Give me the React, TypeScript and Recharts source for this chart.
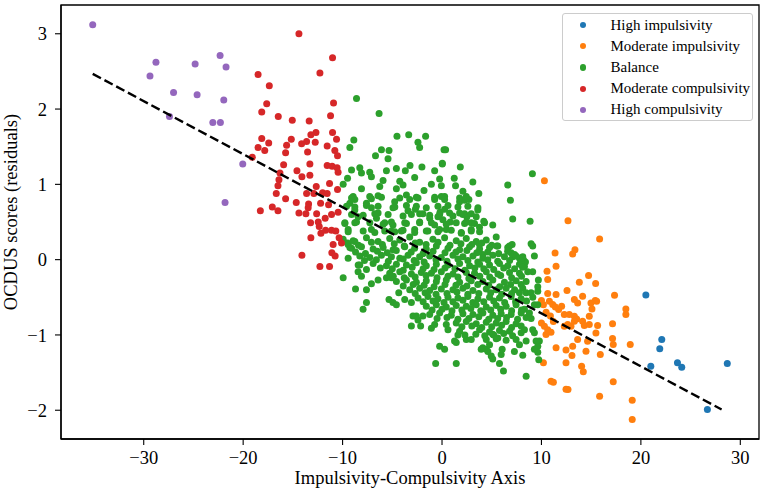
import React from 'react';
import { ScatterChart, Scatter, XAxis, YAxis, Legend, ReferenceArea } from 'recharts';

const FONT = '"Liberation Serif", "Times New Roman", serif';

const xTicks = [-30, -20, -10, 0, 10, 20, 30];
const yTicks = [-2, -1, 0, 1, 2, 3];
const xDomain = [-38.32, 31.88];
const yDomain = [-2.382, 3.382];

const highImpulsivity: [number, number][] = [
  [20.5, -0.47], [22.1, -1.06], [21.9, -1.185], [21.0, -1.415], [23.68, -1.37],
  [24.11, -1.428], [28.69, -1.38], [26.69, -1.99],
];

const moderateImpulsivity: [number, number][] = [
  [10.3, 1.048], [12.67, 0.517], [15.85, 0.274], [13.37, 0.133], [13.14, 0.075], [11.37, 0.088],
  [11.47, -0.088], [10.56, -0.155], [10.63, -0.265], [14.74, -0.212], [13.81, -0.3], [15.45, -0.318],
  [12.57, -0.411], [10.63, -0.451], [11.47, -0.464], [14.14, -0.486], [17.35, -0.473], [13.31, -0.53],
  [13.64, -0.575], [10.0, -0.544], [10.8, -0.553], [11.13, -0.597], [11.4, -0.628], [11.73, -0.663],
  [12.03, -0.619], [12.3, -0.73], [14.98, -0.575], [15.41, -0.544], [15.55, -0.553], [15.08, -0.654],
  [14.81, -0.752], [12.8, -0.73], [13.31, -0.752], [13.54, -0.787], [18.49, -0.654], [18.49, -0.73],
  [10.0, -0.84], [10.3, -0.884], [10.63, -0.93], [10.96, -0.964], [10.46, -0.995], [12.3, -0.884],
  [12.64, -0.862], [12.97, -0.884], [13.31, -0.818], [14.14, -0.818], [14.31, -0.875], [14.81, -0.862],
  [15.65, -0.875], [15.48, -0.973], [17.15, -0.853], [13.64, -1.06], [14.64, -1.083], [14.48, -1.216],
  [17.15, -1.048], [17.22, -1.127], [18.93, -1.127], [13.14, -1.15], [11.47, -1.17], [12.47, -1.2],
  [13.07, -1.273], [15.92, -1.26], [10.2, -1.37], [12.47, -1.37], [14.04, -1.415], [14.21, -1.49],
  [10.96, -1.614], [11.2, -1.627], [17.22, -1.622], [12.67, -1.724], [15.85, -1.813], [19.13, -1.866],
  [19.13, -2.122], [10.47, -0.7], [10.9, -0.75], [11.2, -0.82], [10.2, -0.6], [12.47, -1.72],
];

const balance: [number, number][] = [
  // upper part, x < 0
  [-8.6, 2.14], [-6.33, 1.94], [-4.53, 1.64], [-3.35, 1.66], [-1.65, 1.64], [-2.42, 1.56], [-2.25, 1.49],
  [-8.87, 1.59], [-9.27, 1.49], [-6.09, 1.46], [-5.33, 1.45], [-6.69, 1.38], [-5.43, 1.34], [0.2, 1.46],
  [-9.1, 1.19], [-8.27, 1.22], [-8.1, 1.15], [-7.27, 1.16], [-7.1, 1.1], [-5.59, 1.18], [-4.59, 1.21],
  [-3.69, 1.18], [-3.22, 1.25], [-2.02, 1.23], [-0.74, 1.18], [0.03, 1.27], [-9.5, 1.08], [-5.93, 1.05],
  [-2.75, 1.09], [-4.25, 1.04], [-9.94, 1.0], [-1.07, 1.0], [-0.24, 1.07], [-8.1, 0.94], [-6.26, 0.97],
  [-4.59, 0.94], [-3.92, 0.99], [-1.81, 0.92], [-2.58, 0.83], [-3.58, 0.86], [-7.27, 0.84], [-6.43, 0.85],
  [-8.94, 0.84], [-9.27, 0.75], [-8.77, 0.8], [-7.6, 0.75], [-4.76, 0.77], [-0.74, 0.8], [-0.07, 0.84],
  [-7.1, 0.69], [-8.77, 0.66], [-6.43, 0.62], [-4.93, 0.69], [-3.42, 0.65], [-2.68, 0.67], [-1.92, 0.61],
  [-1.24, 0.55], [-0.41, 0.57], [-8.44, 0.57], [-6.59, 0.55], [-9.77, 0.49], [-8.77, 0.49], [-5.76, 0.49],
  [-4.93, 0.46], [-3.75, 0.49], [-2.25, 0.49], [-0.74, 0.46], [-9.44, 0.4], [-7.1, 0.4], [-5.09, 0.38],
  [-4.09, 0.38], [-2.75, 0.4], [-1.42, 0.38], [-0.24, 0.4],
  // upper part, x > 0
  [0.36, 1.46], [0.03, 1.28], [1.84, 1.23], [1.23, 1.08], [3.1, 1.03], [1.36, 0.98], [-0.07, 0.98],
  [2.1, 0.91], [3.7, 0.88], [6.61, 0.99], [9.09, 1.14], [6.88, 0.79], [0.26, 0.84], [1.77, 0.77],
  [2.27, 0.79], [2.7, 0.8], [3.6, 0.66], [1.77, 0.62], [2.27, 0.61], [2.5, 0.57], [0.26, 0.67],
  [-0.2, 0.63], [0.76, 0.62], [0.09, 0.53], [0.83, 0.5], [2.27, 0.48], [2.94, 0.49], [4.2, 0.51],
  [5.1, 0.46], [7.11, 0.54], [8.86, 0.51], [3.77, 0.43], [2.94, 0.4], [0.43, 0.4], [1.94, 0.35],
  // denser upper band
  [-9.1, 0.82], [-7.1, 0.81], [-6.09, 0.83], [-4.25, 0.82], [-3.25, 0.8], [-2.41, 0.82], [-0.74, 0.83],
  [0.26, 0.8], [1.77, 0.82], [2.44, 0.84],
  [-9.6, 0.71], [-8.77, 0.7], [-7.6, 0.72], [-6.43, 0.71], [-4.75, 0.7], [-3.58, 0.72], [-2.58, 0.71],
  [-1.58, 0.69], [-0.41, 0.71], [0.6, 0.72], [1.6, 0.7], [2.6, 0.71], [3.61, 0.69],
  [-9.1, 0.6], [-7.93, 0.59], [-6.76, 0.61], [-5.42, 0.6], [-3.92, 0.58], [-3.08, 0.6], [-2.25, 0.61],
  [-1.24, 0.59], [-0.24, 0.6], [1.1, 0.58], [2.1, 0.6], [2.94, 0.61], [3.44, 0.57],
  [-9.77, 0.48], [-8.6, 0.5], [-7.26, 0.49], [-5.92, 0.47], [-5.09, 0.5], [-3.58, 0.48], [-2.25, 0.5],
  [-1.07, 0.49], [0.43, 0.47], [1.43, 0.49], [2.44, 0.5], [3.27, 0.48], [4.28, 0.49],
  [-9.44, 0.37], [-7.93, 0.38], [-6.76, 0.36], [-5.76, 0.38], [-4.75, 0.37], [-3.92, 0.39], [-2.75, 0.36],
  [-1.58, 0.38], [-0.41, 0.37], [0.93, 0.39], [1.94, 0.36], [2.94, 0.38], [3.78, 0.37],
  // right edge and lower periphery
  [7.05, 0.2], [8.96, 0.21], [9.12, 0.18], [9.29, 0.05], [8.19, 0.0], [8.39, -0.03], [6.61, 0.16],
  [6.95, 0.09], [7.11, 0.04], [9.12, -0.16], [5.51, 0.18], [8.12, 0.04], [8.29, -0.09], [9.69, -0.27],
  [9.63, -0.36], [9.63, -0.42], [8.12, -0.38], [7.96, -0.33], [8.46, -0.44], [7.79, -0.44], [8.96, -0.44],
  [9.29, -0.6], [9.63, -0.6], [8.29, -0.66], [7.96, -0.71], [8.46, -0.77], [8.96, -0.78], [7.96, -0.88],
  [8.29, -0.93], [7.96, -0.97], [9.12, -0.93], [9.29, -0.97], [9.79, -1.08], [9.63, -1.15], [9.63, -1.23],
  [9.73, -1.33], [8.12, -1.27], [7.79, -1.13], [8.46, -1.55],
  [-9.94, -0.24], [-8.7, -0.39], [-7.6, -0.4], [-7.1, -0.32], [-6.43, -0.27], [-5.59, -0.24], [-5.09, -0.24],
  [-7.6, -0.57], [-7.94, -0.66], [-5.33, -0.53], [-4.93, -0.57], [-4.35, -0.44], [-3.75, -0.53], [-2.92, -0.75],
  [-2.42, -0.8], [-3.08, -0.88], [-2.15, -0.88], [-1.07, -0.91], [-0.74, -0.86], [0.43, -0.86], [0.6, -0.93],
  [-0.24, -1.15], [0.26, -1.19], [-0.64, -1.38], [1.43, -1.38], [1.43, -1.1], [2.44, -1.06], [2.94, -1.06],
  [4.1, -1.17], [4.45, -1.19], [4.95, -1.28], [5.1, -1.32], [5.95, -1.26], [6.05, -1.19], [5.78, -1.38],
  [6.18, -1.48], [9.29, -1.19],
  [-4.59, -0.6], [-3.08, -0.57], [-2.58, -0.75], [-1.92, -0.75], [-8.27, -0.07], [-8.44, -0.16], [-8.1, -0.22],
  [-9.44, 0.02], [-9.27, 0.16], [-8.77, 0.24], [-9.44, 0.2],
  [1.26, -1.08], [1.6, -1.0], [3.94, -1.19], [4.61, -1.22], [4.78, -1.13], [5.1, -0.99], [5.61, -1.04],
  [7.28, -1.22], [8.46, -1.08], [9.46, -1.08], [5.61, 0.18], [6.78, 0.18], [7.29, 0.07], [7.79, 0.02],
  [7.96, -0.02], [3.77, 0.2], [4.1, 0.07],
  // dense core
  [-9.94, 0.27], [-8.94, 0.25], [-7.6, 0.29], [-6.43, 0.24], [-5.26, 0.28], [-4.25, 0.26], [-3.25, 0.3],
  [-2.25, 0.23], [-0.91, 0.27], [0.26, 0.29], [1.43, 0.25], [2.44, 0.28], [3.44, 0.24], [4.45, 0.26],
  [5.45, 0.3],
  [-9.5, 0.22], [-8.4, 0.19], [-7.1, 0.23], [-6.0, 0.2], [-4.8, 0.21], [-3.8, 0.18], [-2.7, 0.22],
  [-1.6, 0.2], [-0.4, 0.23], [0.8, 0.19], [1.9, 0.21], [3.0, 0.2], [4.0, 0.22], [5.0, 0.19],
  [-9.1, 0.15], [-8.1, 0.17], [-6.93, 0.14], [-5.92, 0.16], [-4.92, 0.13], [-3.75, 0.17], [-2.75, 0.15],
  [-1.58, 0.14], [-0.57, 0.18], [0.6, 0.15], [1.77, 0.13], [2.77, 0.17], [3.78, 0.14], [4.78, 0.16],
  [-8.7, 0.1], [-7.7, 0.08], [-6.5, 0.11], [-5.5, 0.09], [-4.6, 0.12], [-3.1, 0.1], [-1.9, 0.08],
  [-0.9, 0.11], [0.3, 0.09], [1.4, 0.1], [2.5, 0.12], [3.5, 0.09], [4.6, 0.1], [5.7, 0.08], [6.6, 0.11],
  [-8.27, 0.05], [-7.26, 0.03], [-6.09, 0.06], [-5.09, 0.04], [-4.25, 0.02], [-3.42, 0.06], [-2.25, 0.04],
  [-1.24, 0.05], [-0.07, 0.03], [1.1, 0.06], [2.1, 0.04], [3.11, 0.05], [4.11, 0.02], [5.11, 0.06],
  [6.28, 0.04], [7.45, 0.05],
  [-7.8, -0.01], [-6.6, 0.0], [-5.4, -0.02], [-3.9, 0.01], [-2.8, -0.01], [-1.8, -0.03], [-0.6, 0.0],
  [0.5, -0.02], [1.6, 0.01], [2.6, -0.01], [3.6, -0.03], [4.6, 0.0], [5.6, -0.02], [6.8, -0.01],
  [-8.43, -0.07], [-6.93, -0.05], [-5.59, -0.08], [-4.59, -0.06], [-3.58, -0.07], [-2.58, -0.04], [-1.58, -0.08],
  [-0.57, -0.06], [0.6, -0.07], [1.77, -0.05], [2.77, -0.08], [3.78, -0.06], [4.78, -0.07], [5.78, -0.05],
  [6.62, -0.08], [7.79, -0.06],
  [-7.6, -0.13], [-6.2, -0.11], [-5.0, -0.12], [-3.9, -0.14], [-3.0, -0.1], [-1.9, -0.12], [-0.8, -0.13],
  [0.3, -0.11], [1.3, -0.12], [2.3, -0.14], [3.3, -0.11], [4.2, -0.12], [5.2, -0.13], [6.2, -0.11],
  [7.3, -0.12], [8.1, -0.1],
  [-5.26, -0.18], [-4.25, -0.16], [-3.08, -0.19], [-2.08, -0.17], [-1.07, -0.18], [-0.07, -0.16], [1.1, -0.19],
  [2.44, -0.17], [3.27, -0.18], [4.45, -0.16], [5.62, -0.19], [6.79, -0.17], [7.79, -0.18], [8.62, -0.16],
  [-4.9, -0.22], [-3.8, -0.24], [-2.7, -0.23], [-1.6, -0.21], [-0.5, -0.24], [0.6, -0.22], [1.6, -0.23],
  [2.7, -0.25], [3.8, -0.22], [4.8, -0.23], [5.9, -0.21], [7.0, -0.24], [8.0, -0.22],
  [-4.59, -0.29], [-3.58, -0.27], [-2.58, -0.3], [-1.58, -0.28], [-0.57, -0.29], [0.43, -0.27], [1.77, -0.3],
  [2.94, -0.28], [4.11, -0.29], [5.11, -0.27], [6.28, -0.3], [7.45, -0.28], [8.46, -0.29],
  [-3.9, -0.35], [-2.9, -0.33], [-1.8, -0.34], [-0.8, -0.36], [0.3, -0.33], [1.4, -0.34], [2.5, -0.35],
  [3.6, -0.33], [4.7, -0.34], [5.8, -0.36], [6.9, -0.33], [7.3, -0.4],
  [-3.25, -0.4], [-2.25, -0.38], [-1.24, -0.41], [-0.07, -0.39], [1.1, -0.4], [2.1, -0.38], [3.11, -0.41],
  [4.45, -0.39], [5.45, -0.4], [6.45, -0.38],
  [-2.7, -0.45], [-1.7, -0.44], [-0.6, -0.46], [0.5, -0.45], [1.5, -0.43], [2.6, -0.46], [3.7, -0.45],
  [4.9, -0.44], [6.0, -0.46], [7.0, -0.45],
  [-2.41, -0.51], [-1.41, -0.49], [-0.41, -0.52], [0.6, -0.5], [1.6, -0.51], [2.6, -0.49], [3.61, -0.52],
  [4.78, -0.5], [5.78, -0.51], [6.95, -0.49], [7.96, -0.52], [9.13, -0.5],
  [-1.9, -0.56], [-0.9, -0.55], [0.2, -0.57], [1.1, -0.56], [2.1, -0.54], [3.1, -0.57], [4.2, -0.56],
  [5.2, -0.55], [6.3, -0.57], [7.4, -0.56], [8.5, -0.55],
  [-1.58, -0.62], [-0.57, -0.6], [0.43, -0.63], [1.43, -0.61], [2.44, -0.62], [3.44, -0.6], [4.45, -0.63],
  [5.45, -0.61], [6.45, -0.62], [7.45, -0.6],
  [-1.0, -0.67], [0.0, -0.66], [1.0, -0.68], [2.0, -0.67], [2.9, -0.65], [3.9, -0.68], [4.9, -0.67],
  [5.9, -0.66], [7.0, -0.68], [8.0, -0.67],
  [-1.24, -0.73], [-0.24, -0.71], [0.93, -0.74], [2.1, -0.72], [3.11, -0.73], [4.11, -0.71], [5.11, -0.74],
  [5.95, -0.72], [6.95, -0.73], [8.79, -0.71],
  [-0.5, -0.78], [0.5, -0.77], [1.6, -0.79], [2.7, -0.78], [3.7, -0.76], [4.7, -0.79], [5.6, -0.78],
  [6.5, -0.77], [7.6, -0.79],
  [1.43, -0.84], [2.44, -0.82], [3.44, -0.85], [4.45, -0.83], [5.45, -0.84], [6.45, -0.82], [7.45, -0.85],
  [2.0, -0.89], [3.0, -0.88], [4.0, -0.9], [5.0, -0.89], [6.0, -0.87], [7.0, -0.9],
  [1.77, -0.95], [3.78, -0.93], [4.78, -0.96], [5.78, -0.94], [6.79, -0.95],
  [2.3, -1.0], [3.4, -0.99], [4.3, -1.01], [5.2, -1.0], [6.2, -0.98], [7.1, -1.01],
  [4.45, -1.06], [5.45, -1.05], [6.45, -1.07], [7.45, -1.06],
];

const moderateCompulsivity: [number, number][] = [
  [-14.39, 3.0], [-11.01, 2.68], [-18.5, 2.46], [-12.28, 2.48], [-17.37, 2.31], [-17.63, 2.07], [-10.91, 2.08],
  [-18.13, 1.96], [-16.47, 1.9], [-15.06, 1.85], [-13.36, 1.84], [-11.21, 1.91], [-11.01, 1.69], [-12.68, 1.69],
  [-13.19, 1.66], [-13.62, 1.57], [-12.75, 1.56], [-14.12, 1.54], [-15.16, 1.6], [-15.63, 1.52], [-18.13, 1.61],
  [-17.43, 1.55], [-18.5, 1.49], [-17.83, 1.45], [-10.61, 1.6], [-11.55, 1.51], [-10.78, 1.45], [-15.73, 1.42],
  [-13.52, 1.43], [-10.51, 1.38], [-19.08, 1.36], [-13.29, 1.27], [-15.93, 1.26], [-11.55, 1.25], [-11.05, 1.24],
  [-10.55, 1.22], [-16.3, 1.15], [-14.59, 1.18], [-10.45, 1.16], [-13.29, 1.12], [-14.09, 1.1], [-16.4, 1.06],
  [-16.5, 0.98], [-11.31, 1.01], [-12.65, 0.97], [-16.67, 0.88], [-15.73, 0.81], [-13.62, 0.88], [-12.89, 0.88],
  [-12.01, 0.89], [-11.55, 0.88], [-10.51, 0.93], [-14.66, 0.76], [-13.42, 0.74], [-12.21, 0.75], [-11.41, 0.73],
  [-13.46, 0.69], [-17.07, 0.7], [-18.27, 0.65], [-16.5, 0.65], [-14.39, 0.62], [-13.69, 0.61], [-12.61, 0.61],
  [-11.11, 0.6], [-10.45, 0.63], [-11.75, 0.55], [-12.45, 0.5], [-13.22, 0.49], [-12.35, 0.44], [-12.18, 0.35],
  [-11.71, 0.39], [-11.11, 0.39], [-10.68, 0.38], [-13.19, 0.29], [-10.35, 0.29], [-10.95, 0.2], [-10.11, 0.22],
  [-11.08, 0.09], [-10.75, 0.05], [-14.09, 0.06], [-12.28, -0.09], [-11.31, -0.09],
];

const highCompulsivity: [number, number][] = [
  [-35.13, 3.12], [-28.77, 2.62], [-29.37, 2.44], [-24.83, 2.6], [-22.32, 2.71], [-21.72, 2.56], [-27.0, 2.22],
  [-24.63, 2.19], [-21.95, 2.12], [-27.41, 1.9], [-23.05, 1.82], [-22.29, 1.82], [-20.04, 1.27], [-21.82, 0.76],
];

const fitLine: [number, number][] = [
  [-35.13, 2.467],
  [28.12, -1.99],
];

const seriesList = [
  { name: 'High impulsivity', color: '#1f77b4', points: highImpulsivity },
  { name: 'Moderate impulsivity', color: '#ff7f0e', points: moderateImpulsivity },
  { name: 'Balance', color: '#2ca02c', points: balance },
  { name: 'Moderate compulsivity', color: '#d62728', points: moderateCompulsivity },
  { name: 'High compulsivity', color: '#9467bd', points: highCompulsivity },
];

const toObjects = (pts: [number, number][]) => pts.map(([x, y]) => ({ x, y }));

const fmt = (v: number) => (v < 0 ? '\u2212' + Math.abs(v) : String(v));

const dot = (color: string) => (props: any) => {
  const { cx, cy } = props;
  if (cx == null || cy == null) return <g />;
  return <circle cx={cx} cy={cy} r={3.5} fill={color} />;
};

const XLabel = (props: any) => {
  const vb = props.viewBox || {};
  return (
    <text x={vb.x + vb.width / 2} y={vb.y + 45} textAnchor="middle" fontFamily={FONT} fontSize={18.5} fill="#000">
      Impulsivity-Compulsivity Axis
    </text>
  );
};

const YLabel = (props: any) => {
  const vb = props.viewBox || {};
  const x = vb.x + 17;
  const y = vb.y + vb.height / 2 - 10;
  return (
    <text x={x} y={y} transform={`rotate(-90 ${x} ${y})`} textAnchor="middle" fontFamily={FONT} fontSize={18.5} fill="#000">
      OCDUS scores (residuals)
    </text>
  );
};

const LegendBox = () => (
  <div
    style={{
      boxSizing: 'border-box',
      width: 191,
      height: 108,
      border: '1px solid #cccccc',
      borderRadius: 3,
      background: 'rgba(255,255,255,0.8)',
      paddingTop: 1,
      fontFamily: FONT,
      fontSize: 15,
      color: '#000',
    }}
  >
    {seriesList.map((s) => (
      <div key={s.name} style={{ position: 'relative', height: 21.2, lineHeight: '21.2px' }}>
        <span
          style={{
            position: 'absolute',
            left: 16.8,
            top: 7.4,
            width: 6.2,
            height: 6.2,
            borderRadius: '50%',
            background: s.color,
          }}
        />
        <span style={{ position: 'absolute', left: 47.5, top: 0, whiteSpace: 'nowrap' }}>{s.name}</span>
      </div>
    ))}
  </div>
);

const axisLineStyle = { stroke: '#000', strokeWidth: 1.3 };
const tickStyle = { fill: '#000', fontSize: 18.5, fontFamily: FONT };

export default function App() {
  return (
    <div style={{ position: 'absolute', left: 0, top: 0, width: 765, height: 497, background: '#fff' }}>
      <ScatterChart width={765} height={497} margin={{ top: 5, right: 6, bottom: 0, left: 0 }}>
        <XAxis
          type="number"
          dataKey="x"
          domain={xDomain}
          ticks={xTicks}
          allowDataOverflow
          height={58}
          tickSize={6}
          tickMargin={6}
          axisLine={axisLineStyle}
          tickLine={{ stroke: '#000', strokeWidth: 1.1 }}
          tick={tickStyle}
          tickFormatter={fmt}
          label={{ content: XLabel }}
        />
        <YAxis
          type="number"
          dataKey="y"
          domain={yDomain}
          ticks={yTicks}
          allowDataOverflow
          width={61}
          tickSize={6}
          tickMargin={8}
          axisLine={axisLineStyle}
          tickLine={{ stroke: '#000', strokeWidth: 1.1 }}
          tick={tickStyle}
          tickFormatter={fmt}
          label={{ content: YLabel }}
        />
        <ReferenceArea
          x1={xDomain[0]}
          x2={xDomain[1]}
          y1={yDomain[0]}
          y2={yDomain[1]}
          fill="none"
          fillOpacity={0}
          stroke="#000"
          strokeWidth={1.3}
          ifOverflow="visible"
        />
        {seriesList.map((s) => (
          <Scatter
            key={s.name}
            name={s.name}
            data={toObjects(s.points)}
            fill={s.color}
            shape={dot(s.color)}
            isAnimationActive={false}
          />
        ))}
        <Scatter
          name="fit"
          data={toObjects(fitLine)}
          line={{ stroke: '#000', strokeWidth: 2.4, strokeDasharray: '9.3 4' }}
          shape={() => <g />}
          legendType="none"
          isAnimationActive={false}
        />
        <Legend
          layout="vertical"
          align="center"
          verticalAlign="middle"
          wrapperStyle={{ left: 562, top: 12.7, width: 191, height: 108 }}
          content={() => <LegendBox />}
        />
      </ScatterChart>
    </div>
  );
}
